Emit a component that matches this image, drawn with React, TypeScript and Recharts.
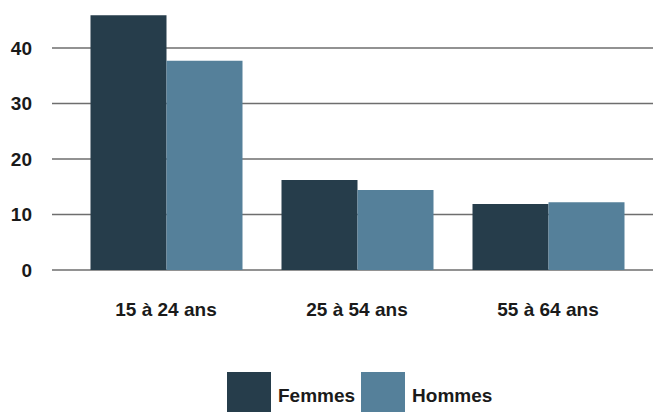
import { BarChart, Bar, XAxis, YAxis, CartesianGrid } from 'recharts'

const categories = ['15 à 24 ans', '25 à 54 ans', '55 à 64 ans']
const femmes = [45.9, 16.2, 11.9]
const hommes = [37.7, 14.4, 12.2]
const yTicks = [0, 10, 20, 30, 40]

const series = [
  { key: 'femmes', name: 'Femmes', color: '#263d4b' },
  { key: 'hommes', name: 'Hommes', color: '#55809a' },
]

const data = categories.map((cat, i) => ({
  cat,
  femmes: femmes[i],
  hommes: hommes[i],
}))

const font = '"Liberation Sans", Arial, sans-serif'

export default function App() {
  return (
    <div style={{ position: 'absolute', left: 0, top: 0, width: 653, height: 412, background: '#fff', overflow: 'hidden' }}>
      <BarChart
        width={653}
        height={412}
        data={data}
        barGap={0}
        margin={{ top: 0, right: 0, bottom: 82, left: 0 }}
      >
        <CartesianGrid vertical={false} horizontalValues={yTicks} stroke="#6e6e6e" strokeWidth={1.5} />
        <XAxis
          dataKey="cat"
          height={60}
          padding={{ left: 18.5, right: 9.5 }}
          axisLine={false}
          tickLine={false}
          tickSize={0}
          tickMargin={33}
          tick={{ fontSize: 19, fontWeight: 'bold', fill: '#1a1a1a', fontFamily: font }}
        />
        <YAxis
          width={52}
          domain={[0, 48.65]}
          ticks={yTicks}
          allowDataOverflow
          axisLine={false}
          tickLine={false}
          tickSize={0}
          tickMargin={20}
          tick={{ fontSize: 19, fontWeight: 'bold', fill: '#1a1a1a', fontFamily: font }}
        />
        {series.map((s) => (
          <Bar key={s.key} dataKey={s.key} name={s.name} fill={s.color} barSize={76} isAnimationActive={false} />
        ))}
      </BarChart>
      <div style={{ position: 'absolute', left: 227, top: 372, display: 'flex', alignItems: 'flex-start', fontFamily: font, fontWeight: 'bold', fontSize: 19, color: '#1a1a1a' }}>
        {series.map((s) => (
          <div key={s.key} style={{ display: 'flex', alignItems: 'flex-start' }}>
            <div style={{ width: 44, height: 44, background: s.color }} />
            <span style={{ marginLeft: 7, marginRight: 6, marginTop: 13, lineHeight: '22px' }}>{s.name}</span>
          </div>
        ))}
      </div>
    </div>
  )
}
